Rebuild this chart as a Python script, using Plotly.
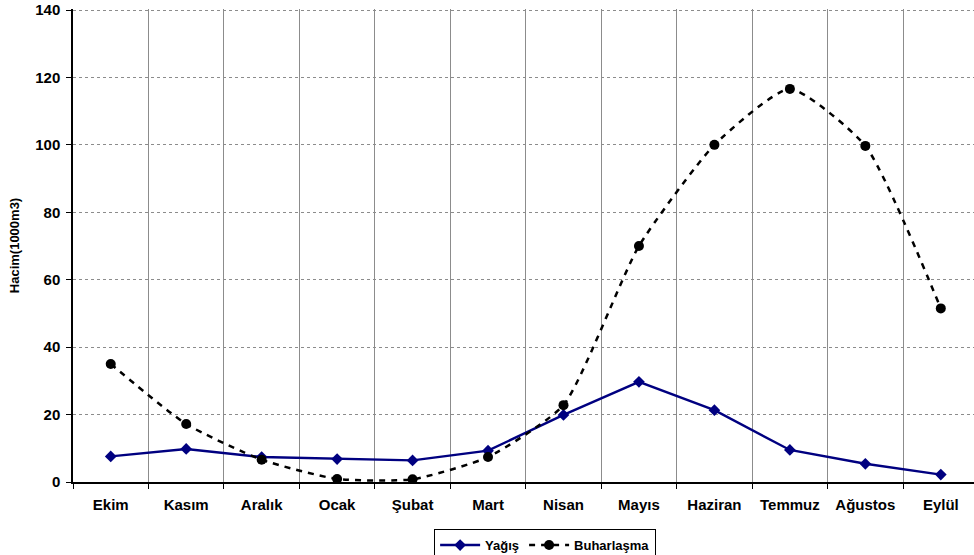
import plotly.graph_objects as go

months = ["Ekim", "Kasım", "Aralık", "Ocak", "Şubat", "Mart", "Nisan",
          "Mayıs", "Haziran", "Temmuz", "Ağustos", "Eylül"]
yagis = [7.6, 9.8, 7.4, 6.8, 6.4, 9.3, 19.9, 29.7, 21.3, 9.5, 5.4, 2.2]
buharlasma = [35.0, 17.2, 6.6, 0.9, 0.8, 7.4, 22.8, 70.0, 100.0, 116.6, 99.7, 51.5]
y_ticks = [0, 20, 40, 60, 80, 100, 120, 140]

fig = go.Figure()
fig.add_trace(go.Scatter(
    x=months, y=yagis, name="Yağış", mode="lines+markers",
    line=dict(color="#000080", width=2.4),
    marker=dict(symbol="diamond", size=9, color="#000080"),
))
fig.add_trace(go.Scatter(
    x=months, y=buharlasma, name="Buharlaşma", mode="lines+markers",
    line=dict(color="black", width=2.5, dash="6px,6px", shape="spline", smoothing=0.55),
    marker=dict(symbol="circle", size=10, color="black"),
))

fig.update_layout(
    width=974, height=555,
    margin=dict(l=73, r=0, t=9, b=73, autoexpand=False),
    plot_bgcolor="white", paper_bgcolor="white",
    font=dict(family="Liberation Sans, Arial, sans-serif", color="black"),
    showlegend=True,
    legend=dict(
        orientation="h", xref="paper", yref="paper",
        x=0.524, xanchor="center", y=-0.0996, yanchor="top",
        bordercolor="black", borderwidth=1, bgcolor="white",
        font=dict(size=13, family="Liberation Sans, Arial, sans-serif", weight="bold"),
        itemwidth=40, tracegroupgap=0,
    ),
    xaxis=dict(
        type="category", tickson="boundaries", range=[-0.5, 11.44],
        showgrid=True, gridcolor="#8c8c8c", gridwidth=1,
        showline=True, linecolor="black", linewidth=1.5,
        ticks="outside", ticklen=5, tickcolor="black",
        tickfont=dict(size=15, weight="bold"), ticklabelstandoff=8,
        zeroline=False, automargin=False,
    ),
    yaxis=dict(
        range=[0, 140.3], tickvals=y_ticks,
        showgrid=True, gridcolor="#8c8c8c", gridwidth=1, griddash="dot",
        showline=True, linecolor="black", linewidth=1.5,
        ticks="outside", ticklen=5, tickcolor="black",
        tickfont=dict(size=15, weight="bold"), ticklabelstandoff=3,
        title=dict(text="Hacim(1000m3)", font=dict(size=13, weight="bold"), standoff=13),
        zeroline=False, automargin=False,
    ),
)

fig.write_html("out.html", post_script="document.body.style.margin='0';",
               config={"displayModeBar": False})
